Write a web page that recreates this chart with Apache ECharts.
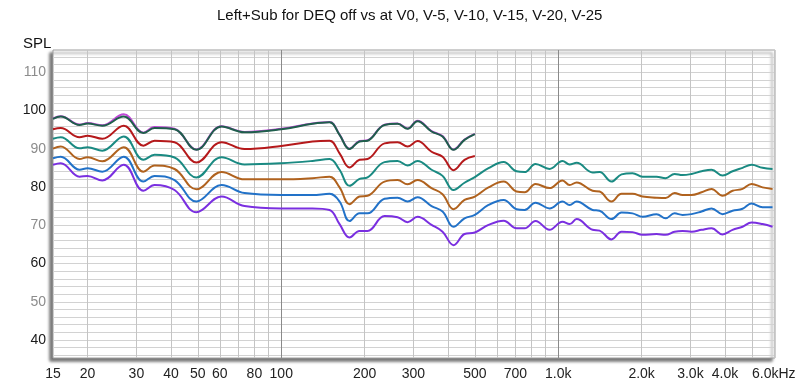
<!DOCTYPE html>
<html><head><meta charset="utf-8">
<script src="https://cdn.jsdelivr.net/npm/echarts@6/dist/echarts.min.js"></script>
<style>html,body{margin:0;padding:0;background:#fff}#c{width:800px;height:387px}</style>
</head><body><div id="c"></div>
<script>
// Frequencies (Hz) at which values were read
const freqs = [15, 16, 18.7, 20, 22.6, 27, 31.8, 34.9, 41.2, 49.4, 60.9, 73.7, 100, 129.7, 149.4, 162.4, 176.4, 191.7, 204.9, 236, 263, 285.8, 310.5, 348.8, 382.3, 418.8, 458.8, 500,
  560, 635, 707, 756, 828, 930, 1036, 1099, 1165, 1330, 1410, 1557, 1692, 1854, 2015, 2264, 2440, 2630, 2810, 3028, 3291, 3576, 3919, 4258, 4627, 4986, 5464, 5937];

const deqOff = [97.9, 98.5, 96.3, 96.7, 96.1, 99.0, 94.2, 95.7, 95.2, 89.8, 95.9, 94.4, 95.2, 96.6, 97.0, 93.7, 90.0, 92.0, 92.2, 96.3, 96.6, 95.3, 97.3, 94.6, 93.3, 89.8, 92.4, 93.9];
const v0 =     [97.8, 98.4, 96.2, 96.6, 96.0, 98.4, 94.1, 95.4, 95.1, 89.7, 95.8, 94.3, 95.1, 96.5, 96.9, 93.6, 89.9, 91.9, 92.1, 96.2, 96.5, 95.2, 97.2, 94.5, 93.2, 89.7, 92.3, 93.8];
const v5 =     [95.1, 95.4, 93.0, 93.4, 92.6, 96.0, 90.8, 92.1, 91.7, 86.4, 91.7, 89.9, 90.7, 91.9, 92.1, 88.8, 85.1, 87.1, 87.3, 91.4, 91.7, 90.6, 92.0, 89.2, 87.9, 84.4, 87.1, 88.1];
const v10 =    [92.6, 93.0, 90.1, 90.4, 89.5, 93.2, 87.1, 88.4, 87.7, 82.5, 87.8, 85.9, 86.2, 86.8, 87.3, 84.5, 80.3, 82.1, 82.5, 86.5, 86.8, 85.6, 86.8, 84.5, 82.9, 79.2, 81.1, 82.6,
  84.9, 86.5, 84.1, 83.9, 86.0, 84.7, 86.8, 85.9, 86.3, 83.8, 83.9, 81.4, 83.3, 83.6, 82.7, 82.7, 82.3, 83.4, 83.1, 83.4, 84.1, 84.5, 83.0, 84.1, 85.0, 85.8, 85.0, 84.7];
const v15 =    [90.0, 90.6, 87.3, 87.8, 86.7, 90.4, 84.0, 85.6, 84.7, 79.4, 83.9, 82.0, 82.0, 82.3, 82.7, 79.9, 75.5, 77.5, 77.7, 81.4, 81.8, 80.7, 81.8, 79.7, 78.1, 74.2, 76.6, 77.5,
  79.9, 81.4, 78.8, 78.6, 80.8, 79.7, 81.7, 80.5, 81.2, 79.0, 78.8, 76.2, 78.2, 78.2, 77.5, 77.2, 77.1, 78.4, 77.9, 77.9, 78.6, 79.5, 77.7, 79.0, 79.5, 80.8, 79.9, 79.5];
const v20 =    [87.5, 87.9, 84.5, 84.9, 84.0, 87.9, 81.4, 82.9, 81.8, 76.2, 80.5, 78.4, 77.9, 77.9, 78.2, 76.2, 71.1, 73.1, 73.1, 76.9, 77.2, 76.2, 77.3, 75.0, 73.6, 69.6, 71.8, 72.7,
  75.3, 76.6, 74.2, 74.0, 75.9, 74.4, 76.2, 75.3, 76.2, 74.0, 73.8, 71.6, 73.3, 73.1, 72.2, 72.9, 71.8, 73.1, 72.7, 72.9, 73.6, 74.4, 72.9, 73.8, 74.3, 75.7, 74.7, 74.7];
const v25 =    [85.8, 86.2, 82.7, 82.9, 81.7, 85.8, 79.0, 80.5, 79.2, 73.4, 77.5, 75.0, 74.4, 74.4, 74.0, 70.3, 66.8, 68.5, 68.5, 72.4, 72.1, 70.8, 72.2, 70.1, 68.3, 64.8, 67.7, 68.1,
  70.1, 71.2, 69.2, 69.2, 71.1, 68.8, 70.9, 70.3, 71.6, 68.8, 68.6, 66.3, 68.3, 68.2, 67.5, 67.7, 67.5, 68.3, 68.5, 68.3, 68.8, 69.2, 67.6, 68.8, 69.6, 70.7, 70.3, 69.6];

const xLabelValues = [15, 20, 30, 40, 50, 60, 80, 100, 200, 300, 500, 700, 1000, 2000, 3000, 4000, 6000];
const xGridValues = [20, 30, 40, 50, 60, 70, 80, 90, 100, 200, 300, 400, 500, 600, 700, 800, 900, 1000, 2000, 3000, 4000, 5000, 6000];
const yLabelValues = [40, 50, 60, 70, 80, 90, 100, 110];
const yGridValues = [];
for (let v = 36; v <= 114; v += 2) yGridValues.push(v);

const titleText = 'Left+Sub for DEQ off vs at V0, V-5, V-10, V-15, V-20, V-25';

function pairs(vals) { return vals.map((v, i) => [freqs[i], v]); }

const seriesDefs = [
  { name: 'DEQ off', data: deqOff, color: '#c048d8' },
  { name: 'V0', data: v0, color: '#1f5f4c' },
  { name: 'V-5', data: v5, color: '#b5191b' },
  { name: 'V-10', data: v10, color: '#1a8a82' },
  { name: 'V-15', data: v15, color: '#b0621e' },
  { name: 'V-20', data: v20, color: '#2272c8' },
  { name: 'V-25', data: v25, color: '#7a2fe0' }
];

const font = 'Liberation Sans, Arial, sans-serif';
const chart = echarts.init(document.getElementById('c'), null, { renderer: 'canvas' });
chart.setOption({
  animation: false,
  backgroundColor: '#ffffff',
  title: [
    { text: titleText, left: 212, top: 3, textStyle: { fontFamily: font, fontSize: 15, fontWeight: 'normal', color: '#111' } },
    { text: 'SPL', left: 18, top: 31, textStyle: { fontFamily: font, fontSize: 15, fontWeight: 'normal', color: '#111' } }
  ],
  grid: {
    show: true, left: 53, right: 25, top: 50, bottom: 29,
    backgroundColor: '#ffffff', borderColor: '#a0a0a0', borderWidth: 1,
    shadowColor: 'rgba(0,0,0,0.55)', shadowBlur: 3, shadowOffsetX: -3, shadowOffsetY: 3
  },
  xAxis: {
    type: 'log', logBase: 10, min: 15, max: 6060,
    axisLine: { show: false },
    axisTick: { show: false, customValues: xGridValues },
    axisLabel: {
      customValues: xLabelValues, margin: 9,
      fontFamily: font, fontSize: 14, color: '#222',
      formatter: v => v >= 1000 ? (v / 1000).toFixed(1) + 'k' + (v === 6000 ? 'Hz' : '') : String(v)
    },
    splitLine: { show: true, lineStyle: { width: 1, color: xGridValues.map(v => (v === 100 || v === 1000) ? '#8a8a8a' : '#c4c4c4') } }
  },
  yAxis: {
    type: 'value', min: 35.3, max: 115.8,
    axisLine: { show: false },
    axisTick: { show: false, customValues: yGridValues },
    axisLabel: {
      customValues: yLabelValues, margin: 7,
      fontFamily: font, fontSize: 14,
      color: v => (v % 20 === 0 ? '#1a1a1a' : '#8c8c8c')
    },
    splitLine: { show: true, lineStyle: { width: 1, color: '#d2d2d2' } }
  },
  series: seriesDefs.map(s => ({
    name: s.name, type: 'line', data: pairs(s.data), smooth: 0.4,
    symbol: 'none', lineStyle: { width: 2, color: s.color }, itemStyle: { color: s.color }
  }))
});
</script></body></html>
